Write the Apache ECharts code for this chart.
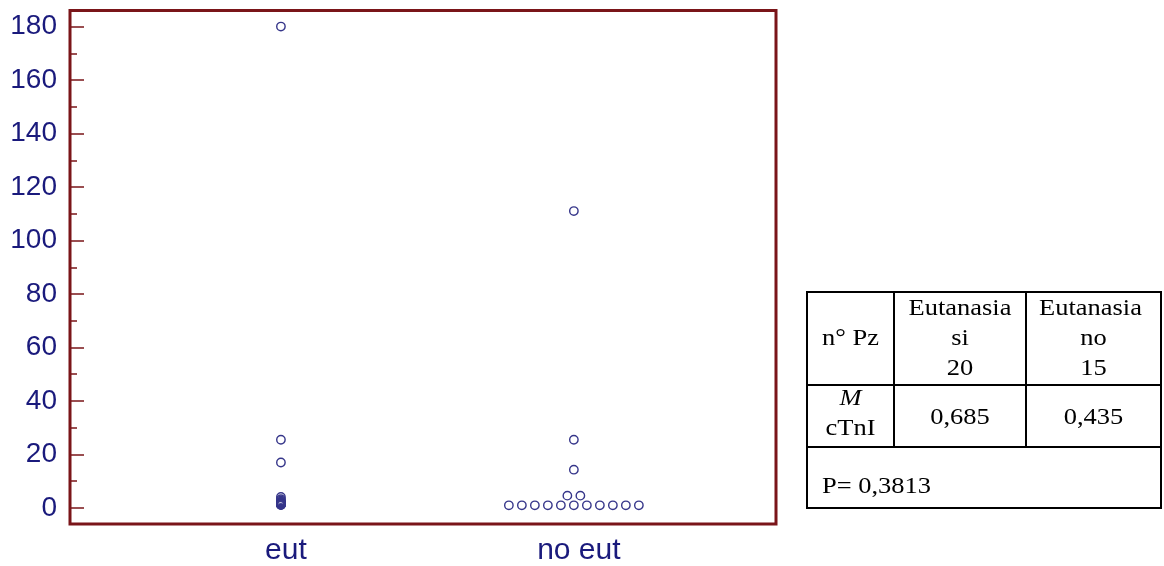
<!DOCTYPE html>
<html>
<head>
<meta charset="utf-8">
<script src="https://cdn.jsdelivr.net/npm/echarts@6/dist/echarts.min.js"></script>
<style>
  html, body { margin: 0; padding: 0; background: #ffffff; }
  #chart { width: 1164px; height: 566px; }
</style>
</head>
<body>
<div id="chart"></div>
<script>
// ---- data ----
const categories = ['eut', 'no eut'];
const eutValues = [180, 25.5, 17, 4.1, 3.3, 2.8, 2.4, 2.1, 1.9, 1.8, 1.7, 1.6, 1.5, 1.45, 1.4, 1.35, 1.3, 1.25, 1.2, 1.1];
const noEutValues = [111, 25.5, 14.3, 4.6, 4.6, 1, 1, 1, 1, 1, 1, 1, 1, 1, 1, 1];
const yTickLabels = [0, 20, 40, 60, 80, 100, 120, 140, 160, 180];
const yMinorTicks = [10, 30, 50, 70, 90, 110, 130, 150, 170];

// table texts
const tableHeader = ['n° Pz', ['Eutanasia', 'si', '20'], ['Eutanasia', 'no', '15']];
const tableRowLabel = ['M', 'cTnI'];
const tableMedians = ['0,685', '0,435'];
const tablePValue = 'P= 0,3813';

// ---- styles ----
const NAVY = '#1a1a7c';
const DOT = '#36368a';
const MAROON = '#7a1519';
const DOT_SPACING = 13; // px between side-by-side identical values

// Build swarm data: identical values are placed side by side
function buildPoints(values, catPos) {
  const groups = {};
  values.forEach(v => { groups[v] = (groups[v] || 0) + 1; });
  const seen = {};
  return values.map(v => {
    const n = groups[v];
    const i = seen[v] || 0;
    seen[v] = i + 1;
    return [catPos, v, i - (n - 1) / 2];
  });
}
const points = buildPoints(eutValues, 1).concat(buildPoints(noEutValues, 2));

const chart = echarts.init(document.getElementById('chart'), null, { renderer: 'canvas' });

const serifFont = '"Liberation Serif", "Times New Roman", serif';
const TFS = 23;
const SX = 1.15;
function tText(str, cx, baseline, opts) {
  opts = opts || {};
  const align = opts.align || 'center';
  return {
    type: 'text',
    x: cx, y: baseline - 8,
    originX: 0, originY: 0,
    scaleX: SX,
    style: {
      text: str,
      x: 0, y: 0,
      fill: '#000',
      font: (opts.italic ? 'italic ' : '') + TFS + 'px ' + serifFont,
      align: align,
      verticalAlign: 'middle'
    },
    z: 10
  };
}
function line(x1, y1, x2, y2) {
  return { type: 'line', shape: { x1, y1, x2, y2 }, style: { stroke: '#000', lineWidth: 2 }, z: 10 };
}

// table geometry
const TL = 807, TR = 1161, TT = 292, TB = 508;
const C1 = 894, C2 = 1026, R1 = 385, R2 = 447;
const col1c = (TL + C1) / 2, col2c = (C1 + C2) / 2, col3c = (C2 + TR) / 2;

const graphics = [
  { type: 'rect', shape: { x: TL, y: TT, width: TR - TL, height: TB - TT }, style: { fill: 'none', stroke: '#000', lineWidth: 2 }, z: 10 },
  line(C1, TT, C1, R2),
  line(C2, TT, C2, R2),
  line(TL, R1, TR, R1),
  line(TL, R2, TR, R2),
  tText(tableHeader[0], col1c, 347),
  tText(tableHeader[1][0], col2c, 317),
  tText(tableHeader[1][1], col2c, 347),
  tText(tableHeader[1][2], col2c, 377),
  tText(tableHeader[2][0], col3c - 3, 317),
  tText(tableHeader[2][1], col3c, 347),
  tText(tableHeader[2][2], col3c, 377),
  tText(tableRowLabel[0], col1c, 407, { italic: true }),
  tText(tableRowLabel[1], col1c, 437),
  tText(tableMedians[0], col2c, 426),
  tText(tableMedians[1], col3c, 426),
  tText(tablePValue, 822, 495, { align: 'left' })
];

const option = {
  backgroundColor: '#ffffff',
  animation: false,
  grid: {
    left: 70, right: 388, top: 10.5, bottom: 41,
    show: true, borderColor: MAROON, borderWidth: 3, backgroundColor: 'transparent'
  },
  xAxis: {
    type: 'value', min: 0.28, max: 2.69,
    axisLine: { show: false }, axisTick: { show: false }, splitLine: { show: false },
    axisLabel: {
      customValues: [1, 2],
      formatter: v => categories[Math.round(v) - 1] || '',
      color: NAVY, fontSize: 30, fontFamily: '"Liberation Sans", Arial, sans-serif',
      margin: 12, padding: [0, 0, 0, 10]
    }
  },
  yAxis: [
    {
      type: 'value', min: -6, max: 186, position: 'left',
      axisLine: { show: false },
      splitLine: { show: false },
      axisTick: { show: true, inside: true, length: 14, customValues: yTickLabels, lineStyle: { color: MAROON, width: 1.5 } },
      axisLabel: { customValues: yTickLabels, color: NAVY, fontSize: 28, fontFamily: '"Liberation Sans", Arial, sans-serif', margin: 13 }
    },
    {
      type: 'value', min: -6, max: 186, position: 'left', offset: 0,
      axisLine: { show: false },
      splitLine: { show: false },
      axisLabel: { show: false },
      axisTick: { show: true, inside: true, length: 7, customValues: yMinorTicks, lineStyle: { color: MAROON, width: 1.5 } }
    }
  ],
  graphic: graphics,
  series: [{
    type: 'custom',
    data: points,
    encode: { x: 0, y: 1 },
    renderItem: function (params, api) {
      const p = api.coord([api.value(0), api.value(1)]);
      return {
        type: 'circle',
        shape: { cx: p[0] + api.value(2) * DOT_SPACING, cy: p[1], r: 4.2 },
        style: { fill: 'none', stroke: DOT, lineWidth: 1.4 }
      };
    }
  }]
};
chart.setOption(option);
</script>
</body>
</html>
